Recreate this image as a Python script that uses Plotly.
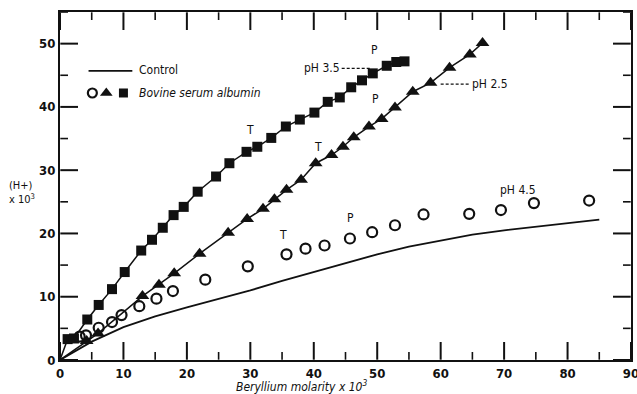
import plotly.graph_objects as go

# ---- data ----
control_x = [0, 5, 10, 15, 20, 25, 30, 35, 40, 45, 50, 55, 60, 65, 70, 75, 80, 85]
control_y = [0, 2.9, 5.2, 6.9, 8.3, 9.6, 11.0, 12.5, 13.9, 15.2, 16.7, 17.9, 18.9, 19.8, 20.5, 21.1, 21.7, 22.2]

sq_x = [1.2, 2.2, 4.3, 6.1, 8.2, 10.2, 12.8, 14.5, 16.2, 17.9, 19.5, 21.7, 24.6, 26.7, 29.4, 31.1,
        33.3, 35.6, 37.8, 40.1, 42.2, 44.1, 45.9, 47.6, 49.3, 51.5, 53.0, 54.3]
sq_y = [3.3, 3.4, 6.4, 8.7, 11.2, 13.9, 17.3, 19.0, 20.9, 22.9, 24.2, 26.6, 29.0, 31.1, 32.9, 33.7,
        35.1, 36.9, 38.0, 39.1, 40.8, 41.5, 43.1, 44.2, 45.3, 46.5, 47.1, 47.2]

tri_x = [4.2, 6.0, 13.0, 15.6, 18.0, 22.0, 26.5, 29.5, 32.0, 33.8, 35.7, 38.0, 40.3, 42.8, 44.6,
         46.3, 48.7, 50.7, 52.8, 55.6, 58.4, 61.4, 64.6, 66.6]
tri_y = [3.0, 4.2, 10.1, 11.9, 13.7, 16.8, 20.1, 22.3, 23.9, 25.4, 26.9, 28.5, 31.1, 32.4, 33.7,
         35.2, 36.9, 38.1, 39.9, 42.4, 43.8, 46.2, 48.3, 50.1]

circ_x = [3.1, 4.1, 6.1, 8.2, 9.7, 12.5, 15.2, 17.8, 22.9, 29.6, 35.7, 38.7, 41.7, 45.7, 49.2,
          52.8, 57.3, 64.5, 69.5, 74.7, 83.4]
circ_y = [3.7, 3.9, 5.1, 6.0, 7.1, 8.5, 9.7, 10.9, 12.7, 14.8, 16.7, 17.6, 18.1, 19.2, 20.2,
          21.3, 23.0, 23.1, 23.7, 24.8, 25.2]

x_ticks = [0, 10, 20, 30, 40, 50, 60, 70, 80, 90]
x_minor = [5, 15, 25, 35, 45, 55, 65, 75, 85]
y_ticks = [0, 10, 20, 30, 40, 50]
y_minor = [5, 15, 25, 35, 45, 55]

X_RANGE = [0, 90]
Y_RANGE = [0, 55]

WIDTH, HEIGHT = 637, 394
MARGIN = dict(l=60, r=6, t=12, b=34)
PLOT_W = WIDTH - MARGIN["l"] - MARGIN["r"]
PLOT_H = HEIGHT - MARGIN["t"] - MARGIN["b"]

FONT = "DejaVu Sans Condensed"
INK = "#111111"

fig = go.Figure()

fig.add_trace(go.Scatter(x=control_x, y=control_y, mode="lines",
                         line=dict(color=INK, width=1.8), showlegend=False))
fig.add_trace(go.Scatter(x=[0] + sq_x, y=[0] + sq_y, mode="lines",
                         line=dict(color=INK, width=1.5), showlegend=False))
fig.add_trace(go.Scatter(x=[0] + tri_x, y=[0] + tri_y, mode="lines",
                         line=dict(color=INK, width=1.5), showlegend=False))
fig.add_trace(go.Scatter(x=sq_x, y=sq_y, mode="markers",
                         marker=dict(symbol="square", size=10, color=INK), showlegend=False))
fig.add_trace(go.Scatter(x=tri_x, y=tri_y, mode="markers",
                         marker=dict(symbol="triangle-up", size=12, color=INK), showlegend=False))
fig.add_trace(go.Scatter(x=circ_x, y=circ_y, mode="markers",
                         marker=dict(symbol="circle-open", size=10, color=INK,
                                     line=dict(width=2.2, color=INK)), showlegend=False))

# legend (drawn manually)
fig.add_trace(go.Scatter(x=[4.5, 11.4], y=[45.7, 45.7], mode="lines",
                         line=dict(color=INK, width=1.8), showlegend=False))
fig.add_trace(go.Scatter(x=[5.1], y=[42.2], mode="markers",
                         marker=dict(symbol="circle-open", size=9, color=INK, line=dict(width=2.2, color=INK)),
                         showlegend=False))
fig.add_trace(go.Scatter(x=[7.3], y=[42.2], mode="markers",
                         marker=dict(symbol="triangle-up", size=11, color=INK), showlegend=False))
fig.add_trace(go.Scatter(x=[10.0], y=[42.2], mode="markers",
                         marker=dict(symbol="square", size=9, color=INK), showlegend=False))

# dashed leaders
fig.add_trace(go.Scatter(x=[44.4, 49.1], y=[46.1, 46.1], mode="lines",
                         line=dict(color=INK, width=1.2, dash="3px,2px"), showlegend=False))
fig.add_trace(go.Scatter(x=[60.0, 64.6], y=[43.6, 43.6], mode="lines",
                         line=dict(color=INK, width=1.2, dash="3px,2px"), showlegend=False))

# inside tick marks on all four sides: one short segment per tick, drawn on top
dy_major = (Y_RANGE[1] - Y_RANGE[0]) * 18 / PLOT_H
dy_minor = (Y_RANGE[1] - Y_RANGE[0]) * 8 / PLOT_H
dx_major = (X_RANGE[1] - X_RANGE[0]) * 18 / PLOT_W
dx_minor = (X_RANGE[1] - X_RANGE[0]) * 8 / PLOT_W

def seg(xs, ys, width):
    fig.add_trace(go.Scatter(x=xs, y=ys, mode="lines", line=dict(color=INK, width=width),
                             hoverinfo="skip", showlegend=False))

for vals, d, w in ((x_ticks, dy_major, 2.0), (x_minor, dy_minor, 1.6)):
    for v in vals:
        seg([v, v], [Y_RANGE[0] + 0.05, Y_RANGE[0] + d], w)
        seg([v, v], [Y_RANGE[1] - 0.05, Y_RANGE[1] - d], w)
for vals, d, w in ((y_ticks, dx_major, 2.0), (y_minor, dx_minor, 1.6)):
    for v in vals:
        seg([X_RANGE[0] + 0.05, X_RANGE[0] + d], [v, v], w)
        seg([X_RANGE[1] - 0.05, X_RANGE[1] - d], [v, v], w)

ann_font = dict(family=FONT, size=12, color=INK)
texts = [
    (30.0, 36.3, "T"), (40.7, 33.6, "T"), (35.1, 19.7, "T"),
    (49.6, 49.0, "P"), (49.8, 41.2, "P"), (45.8, 22.4, "P"),
    (41.3, 46.1, "pH 3.5"), (67.8, 43.6, "pH 2.5"), (72.2, 26.9, "pH 4.5"),
]
annotations = [dict(x=x, y=y, xref="x", yref="y", text=t, showarrow=False,
                    font=ann_font, xanchor="center", yanchor="middle") for x, y, t in texts]
annotations += [
    dict(x=12.1, y=45.8, xref="x", yref="y", text="Control", showarrow=False,
         font=ann_font, xanchor="left", yanchor="middle"),
    dict(x=12.1, y=42.2, xref="x", yref="y", text="<i>Bovine serum albumin</i>", showarrow=False,
         font=ann_font, xanchor="left", yanchor="middle"),
    dict(x=38.0, y=-0.075, xref="x", yref="paper", text="<i>Beryllium molarity x 10<sup>3</sup></i>",
         showarrow=False, font=dict(family=FONT, size=12, color=INK), xanchor="center", yanchor="middle"),
    dict(x=-0.067, y=26.5, xref="paper", yref="y", text="(H+)<br>x 10<sup>3</sup>",
         showarrow=False, font=dict(family=FONT, size=11, color=INK), xanchor="center", yanchor="middle",
         align="left"),
]

tickfont = dict(family=FONT, size=13, color=INK, weight="bold")

def axis(vals, rng):
    return dict(
        range=rng, tickmode="array", tickvals=vals, ticktext=[str(v) for v in vals],
        showline=True, linecolor=INK, linewidth=2, mirror=True,
        ticks="", showgrid=False, zeroline=False, automargin=False,
        tickfont=tickfont, ticklabeloverflow="allow",
    )

fig.update_layout(
    width=WIDTH, height=HEIGHT,
    margin=MARGIN,
    paper_bgcolor="white", plot_bgcolor="white",
    xaxis=axis(x_ticks, X_RANGE), yaxis=axis(y_ticks, Y_RANGE),
    annotations=annotations,
)

fig.write_html(
    "out.html",
    config={"displayModeBar": False},
    post_script="document.body.style.margin='0';document.body.style.overflow='hidden';",
)
